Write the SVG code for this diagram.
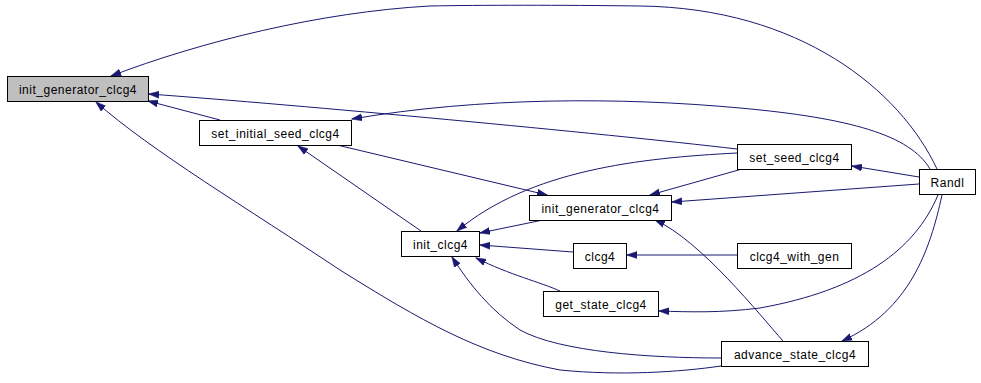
<svg xmlns="http://www.w3.org/2000/svg" width="981" height="383" viewBox="0 0 981 383">
<style>
.n rect{fill:#ffffff;stroke:#000000;stroke-width:1}
.n.g rect{fill:#bfbfbf}
.n text{font-family:"Liberation Sans",Arial,sans-serif;font-size:12px;letter-spacing:0.5px;text-anchor:middle;fill:#000000}
.e path{fill:none;stroke:#191970;stroke-width:1;marker-end:url(#ah)}
</style>
<defs>
<marker id="ah" markerUnits="userSpaceOnUse" markerWidth="11" markerHeight="8" viewBox="0 0 11 8" refX="10" refY="4" orient="auto">
<path d="M0,0.5 L10.5,4 L0,7.5 z" fill="#191970" stroke="#191970" stroke-width="0.5"/>
</marker>
</defs>
<rect width="981" height="383" fill="#ffffff"/>
<g id="edges" class="e">
<path d="M937,169 C900,90 800,8 640,6 C560,5 480,5 430,6 C320,12 200,42 111,76"/>
<path d="M737,149 C600,133 300,105 149,94"/>
<path d="M220,120 L148,101"/>
<path d="M721,366 C680,372 620,376 560,370 C480,355 420,320 340,270 C250,210 150,150 96,102"/>
<path d="M930,169 C910,135 850,118 740,108 C620,97 480,97 352,119"/>
<path d="M421,231 L298,146"/>
<path d="M337,145 L547,195"/>
<path d="M737,153 C640,158 530,170 457,231"/>
<path d="M543,220 L480,233"/>
<path d="M573,252 L480,245"/>
<path d="M560,291 C540,282 510,275 476,258"/>
<path d="M721,358 C650,358 560,352 520,330 C490,310 470,285 452,257"/>
<path d="M742,169 L650,195"/>
<path d="M919,184 L672,202"/>
<path d="M919,177 L852,166"/>
<path d="M783,341 C760,315 700,240 655,220"/>
<path d="M737,255 L627,255"/>
<path d="M938,195 C915,250 860,290 760,308 C720,313 690,312 659,311"/>
<path d="M942,195 C930,250 910,310 842,341"/>
</g>
<g id="init_generator_clcg4_main" class="n g"><rect x="7.5" y="76.5" width="141" height="25"/><text x="78" y="93.5">init_generator_clcg4</text></g>
<g id="set_initial_seed_clcg4" class="n"><rect x="199.5" y="120.5" width="152" height="25"/><text x="275.5" y="137.5">set_initial_seed_clcg4</text></g>
<g id="init_generator_clcg4" class="n"><rect x="529.5" y="195.5" width="142" height="25"/><text x="600.5" y="212.5">init_generator_clcg4</text></g>
<g id="init_clcg4" class="n"><rect x="401.5" y="231.5" width="78" height="25"/><text x="440.5" y="248.5">init_clcg4</text></g>
<g id="clcg4" class="n"><rect x="573.5" y="243.5" width="53" height="25"/><text x="600" y="260.5">clcg4</text></g>
<g id="get_state_clcg4" class="n"><rect x="543.5" y="291.5" width="115" height="25"/><text x="601" y="308.5">get_state_clcg4</text></g>
<g id="advance_state_clcg4" class="n"><rect x="721.5" y="341.5" width="147" height="25"/><text x="795" y="358.5">advance_state_clcg4</text></g>
<g id="set_seed_clcg4" class="n"><rect x="737.5" y="144.5" width="114" height="25"/><text x="794.5" y="161.5">set_seed_clcg4</text></g>
<g id="clcg4_with_gen" class="n"><rect x="737.5" y="243.5" width="114" height="25"/><text x="794.5" y="260.5">clcg4_with_gen</text></g>
<g id="Randl" class="n"><rect x="919.5" y="169.5" width="56" height="25"/><text x="947.5" y="186.5">Randl</text></g>
</svg>
